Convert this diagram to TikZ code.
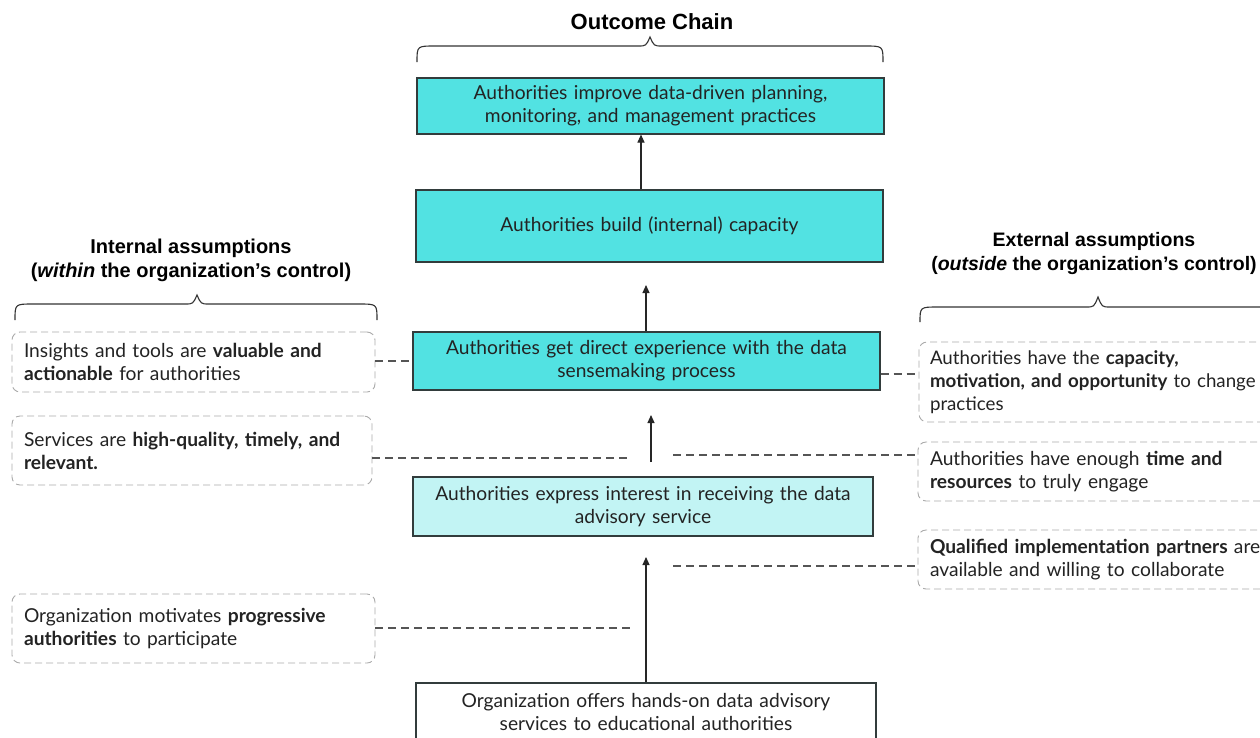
\documentclass[tikz,border=0pt]{standalone}
\usepackage{fontspec}
\setmainfont{Lato}
\newfontfamily\titlefont{Liberation Sans}
\usetikzlibrary{arrows.meta}
\definecolor{cyanA}{RGB}{82,226,226}
\definecolor{cyanB}{RGB}{194,244,244}
\definecolor{boxline}{RGB}{50,60,60}
\definecolor{dashgray}{RGB}{170,170,170}
\definecolor{lgray}{RGB}{85,85,85}
\definecolor{txt}{RGB}{35,35,35}
\tikzset{
  bodytext/.style={font=\fontsize{19.2}{23}\selectfont, text=txt},
  chainbox/.style={draw=boxline, line width=1.1pt, bodytext, align=center, inner xsep=6pt, inner ysep=0pt},
  asbox/.style={draw=dashgray, dash pattern=on 7pt off 4pt, line width=0.9pt, rounded corners=8pt, bodytext, align=left, inner xsep=12pt, inner ysep=0pt},
  dline/.style={draw=lgray, dash pattern=on 8pt off 5pt, line width=1.1pt},
  arr/.style={draw=black!85, line width=1.1pt, -{Triangle[length=8pt,width=7pt]}},
  bracestyle/.style={draw=black!80, line width=1.1pt},
  titletext/.style={font=\titlefont\bfseries\fontsize{20}{24}\selectfont, align=center, text=black}
}
\begin{document}
\begin{tikzpicture}[x=1pt,y=-1pt]
\useasboundingbox (0,0) rectangle (1260,737);
\fill[white] (0,0) rectangle (1260,737);
\begin{scope}
\clip (0,0) rectangle (1260,737);
% titles
\node[titletext, font=\titlefont\bfseries\fontsize{22}{24}\selectfont] (t1) at (652,22) {Outcome Chain};
\node[titletext] (t2) at (191,260) {Internal assumptions\\(\textit{within} the organization’s control)};
\node[titletext, font=\titlefont\bfseries\fontsize{19.5}{24}\selectfont] (t3) at (1094,253) {External assumptions\\(\textit{outside} the organization’s control)};
% braces
\draw[bracestyle] (417,62) .. controls (417,46) .. (435,46) -- (638,46) .. controls (646,46) .. (650,37) .. controls (654,46) .. (662,46) -- (865,46) .. controls (883,46) .. (883,62);
\draw[bracestyle] (15,320) .. controls (15,304) .. (33,304) -- (185,304) .. controls (193,304) .. (197,295) .. controls (201,304) .. (209,304) -- (359,304) .. controls (377,304) .. (377,320);
\draw[bracestyle] (920,322) .. controls (920,307) .. (938,307) -- (1086,307) .. controls (1094,307) .. (1098,297) .. controls (1102,307) .. (1110,307) -- (1262,307) .. controls (1280,307) .. (1280,322);
% chain boxes
\node[chainbox, fill=cyanA, minimum width=467pt, text width=455pt, minimum height=56pt] (B1) at (650.5,106) {Authorities improve data-driven planning,\\monitoring, and management practices};
\node[chainbox, fill=cyanA, minimum width=467pt, text width=455pt, minimum height=72pt] (B2) at (649.5,226) {Authorities build (internal) capacity};
\node[chainbox, fill=cyanA, minimum width=467pt, text width=455pt, minimum height=58pt] (B3) at (646.5,361) {Authorities get direct experience with the data\\sensemaking process};
\node[chainbox, fill=cyanB, minimum width=460pt, text width=448pt, minimum height=59pt] (B4) at (643,506.5) {Authorities express interest in receiving the data\\advisory service};
\node[chainbox, fill=white, minimum width=460pt, text width=448pt, minimum height=58pt] (B5) at (646,712) {Organization offers hands-on data advisory\\services to educational authorities};
% internal assumption boxes
\node[asbox, text width=339pt, minimum height=60pt] (L1) at (193.5,362) {Insights and tools are \textbf{valuable and}\\\textbf{actionable} for authorities};
\node[asbox, text width=336pt, minimum height=69pt] (L2) at (192,450.5) {Services are \textbf{high-quality, timely, and}\\\textbf{relevant.}};
\node[asbox, text width=339pt, minimum height=69pt] (L3) at (193.5,628.5) {Organization motivates \textbf{progressive}\\\textbf{authorities} to participate};
% external assumption boxes
\node[asbox, text width=400pt, minimum height=80pt, inner xsep=11pt, font=\fontsize{18.7}{23}\selectfont] (R1) at (1130,382) {Authorities have the \textbf{capacity,}\\\textbf{motivation, and opportunity} to change\\practices};
\node[asbox, text width=400pt, minimum height=59pt] (R2) at (1130,471.5) {Authorities have enough \textbf{time and}\\\textbf{resources} to truly engage};
\node[asbox, text width=400pt, minimum height=59pt] (R3) at (1130,559.5) {\textbf{Qualified implementation partners} are\\available and willing to collaborate};
% arrows
\coordinate (a1) at (641,0);
\draw[arr] (B2.north -| a1) -- (B1.south -| a1);
\coordinate (a2t) at (646,285);
\draw[arr] (B3.north -| a2t) -- (a2t);
\coordinate (a3b) at (651,462);
\coordinate (a3t) at (651,415);
\draw[arr] (a3b) -- (a3t);
\coordinate (a4t) at (646,557);
\draw[arr] (B5.north -| a4t) -- (a4t);
% dashed links
\coordinate (d7) at (0,361);
\draw[dline] (L1.east |- d7) -- (B3.west |- d7);
\coordinate (d2) at (630,458);
\draw[dline] (L2.east |- d2) -- (d2);
\coordinate (d3) at (632,628);
\draw[dline] (L3.east |- d3) -- (d3);
\coordinate (d6) at (0,374);
\draw[dline] (B3.east |- d6) -- (R1.west |- d6);
\coordinate (d4) at (673,455);
\draw[dline] (d4) -- (R2.west |- d4);
\coordinate (d5) at (673,566);
\draw[dline] (d5) -- (R3.west |- d5);
\end{scope}
\end{tikzpicture}
\end{document}
